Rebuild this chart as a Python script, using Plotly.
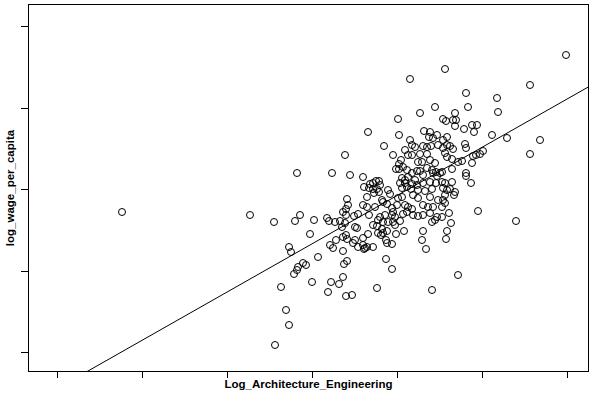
import plotly.graph_objects as go

# Log_Architecture_Engineering (x) and log_wage_per_capita (y)
x_vals = [
    1.22, 5.66, 2.50, 2.75, 2.89, 2.86,
    4.10, 4.45, 4.35, 4.20, 3.98, 4.43, 4.46, 3.68, 3.99, 4.24, 4.30,
    5.30, 4.66, 4.97, 4.68, 4.55, 4.98, 4.53, 4.56, 4.55, 4.64, 4.72, 4.77, 4.74, 4.92,
    3.45, 2.97, 3.32, 3.50, 3.46, 3.48, 2.74, 2.95, 3.00, 3.14, 3.27, 3.29, 3.35, 3.40, 3.46, 3.45,
    4.29, 4.33, 4.37,
    4.10, 3.84, 3.93, 4.05, 4.12, 4.15, 4.23, 4.27, 4.31, 4.38,
    4.08, 4.12, 4.20, 4.27,
    4.01, 4.18, 4.22, 4.30, 4.35,
    3.99, 4.03, 3.96, 3.99,
    4.07, 4.17, 4.20, 4.27, 4.32, 4.36,
    3.63, 4.12, 4.23, 4.33, 4.37,
    4.02, 4.05, 4.08, 4.15,
    3.76, 3.79, 3.70, 3.73, 3.64, 3.69, 3.73, 3.77, 3.74, 3.79, 3.80,
    3.88, 3.90,
    4.00, 4.05, 4.12, 4.17, 4.23, 4.30, 4.36,
    4.02, 4.07, 4.11, 4.18, 4.25, 4.32,
    3.47, 3.67, 3.82, 3.98, 4.02, 4.13, 4.18, 4.30, 4.38,
    3.63, 3.67, 3.75, 3.83, 3.87, 3.92, 3.97, 4.05, 4.08, 4.12, 4.23, 4.28, 4.33,
    3.43, 3.54, 3.58, 3.69, 3.80, 3.85, 3.93, 3.92, 3.95, 4.03, 4.07, 4.13, 4.18, 4.23, 4.30, 4.37,
    3.78, 3.83, 3.88, 3.93, 4.00, 4.32,
    5.07, 5.40, 4.47,
    4.43, 4.47, 4.50, 4.43, 4.53, 4.65, 4.66, 5.30, 4.83, 4.80, 4.76, 4.73, 4.45, 4.47, 4.52,
    4.58, 4.62, 4.72, 4.42, 4.40, 4.52, 4.66, 4.66, 4.71, 4.42, 4.45, 4.52, 4.43, 4.47, 4.50,
    4.55, 4.54, 4.45, 4.43, 4.45, 4.42, 4.78, 4.49, 4.42, 4.51, 5.16,
    3.42, 3.10, 3.46, 3.43, 3.47, 3.36, 2.89, 2.91, 3.30, 3.33, 3.43, 3.18, 3.47, 3.44, 3.03,
    3.06, 2.98, 2.97, 2.94, 3.12, 3.31, 3.39, 3.43, 2.81, 3.28, 3.46,
    3.55, 3.57, 3.73, 3.77, 3.95, 3.82, 3.78, 3.81, 3.83, 3.87, 3.96, 4.04, 4.23, 4.47, 4.35,
    3.55, 3.53, 3.63, 3.68, 3.58, 3.63, 3.65, 3.64, 3.67, 3.73, 3.86, 3.87, 3.92, 4.22, 4.26, 4.46,
    3.86, 3.92, 3.77, 4.32, 3.52,
    4.58,
]
y_vals = [
    1.88, 3.45, 1.85, 0.55, 0.75, 0.90,
    3.21, 3.31, 2.93, 2.87, 2.81, 2.81, 2.79, 2.68, 2.65, 2.69, 2.68,
    3.15, 3.07, 3.02, 2.93, 2.87, 2.88, 2.80, 2.80, 2.74, 2.71, 2.75, 2.75, 2.68, 2.65,
    2.45, 2.27, 2.27, 2.25, 1.91, 1.95, 1.78, 1.79, 1.85, 1.80, 1.82, 1.79, 1.78, 1.79, 1.85, 1.77,
    2.63, 2.62, 2.65,
    2.60, 2.54, 2.45, 2.50, 2.55, 2.53, 2.54, 2.53, 2.54, 2.55,
    2.45, 2.45, 2.46, 2.46,
    2.40, 2.38, 2.38, 2.40, 2.37,
    2.36, 2.33, 2.31, 2.31,
    2.30, 2.29, 2.29, 2.32, 2.30, 2.28,
    2.23, 2.27, 2.25, 2.27, 2.24,
    2.22, 2.20, 2.23, 2.20,
    2.19, 2.19, 2.16, 2.17, 2.13, 2.12, 2.11, 2.11, 2.07, 2.08, 2.15,
    2.10, 2.06,
    2.17, 2.17, 2.16, 2.15, 2.17, 2.18, 2.17,
    2.12, 2.13, 2.11, 2.10, 2.09, 2.11,
    2.01, 2.03, 2.00, 2.02, 2.03, 2.05, 2.02, 2.03, 2.00,
    1.95, 1.93, 1.93, 1.98, 1.96, 1.92, 1.95, 1.95, 1.93, 1.91, 1.95, 1.93, 1.93,
    1.88, 1.84, 1.86, 1.85, 1.83, 1.85, 1.88, 1.85, 1.83, 1.86, 1.88, 1.85, 1.84, 1.85, 1.87, 1.83,
    1.80, 1.78, 1.78, 1.78, 1.79, 1.78,
    2.62, 2.60, 2.63,
    2.60, 2.55, 2.54, 2.52, 2.51, 2.56, 2.52, 2.46, 2.49, 2.46, 2.45, 2.44, 2.47, 2.43, 2.41,
    2.38, 2.39, 2.37, 2.28, 2.27, 2.31, 2.27, 2.24, 2.17, 2.18, 2.17, 2.18, 2.12, 2.10, 2.11,
    2.08, 2.05, 2.05, 2.00, 1.97, 1.93, 1.89, 1.87, 1.83, 1.77, 1.79,
    1.73, 1.66, 1.65, 1.63, 1.61, 1.60, 1.53, 1.48, 1.55, 1.52, 1.49, 1.43, 1.39, 1.36, 1.37,
    1.35, 1.33, 1.30, 1.26, 1.18, 1.18, 1.16, 1.23, 1.13, 1.08, 1.04,
    1.73, 1.72, 1.75, 1.74, 1.75, 1.71, 1.67, 1.65, 1.67, 1.69, 1.66, 1.69, 1.69, 1.69, 1.80,
    1.60, 1.57, 1.62, 1.66, 1.53, 1.55, 1.52, 1.51, 1.53, 1.53, 1.60, 1.57, 1.56, 1.60, 1.51, 1.61,
    1.41, 1.31, 1.12, 1.10, 1.05,
    1.25,
]

# fitted regression line
fit_intercept = -0.2096
fit_slope = 0.5677

x_range = [0.29, 5.88]
y_range = [0.29, 3.95]
x_ticks = [0.57, 1.42, 2.27, 3.12, 3.97, 4.82, 5.67]
y_ticks = [0.473, 1.29, 2.105, 2.92, 3.735]

line_x = [x_range[0], x_range[1]]
line_y = [fit_intercept + fit_slope * v for v in line_x]

fig = go.Figure()
fig.add_trace(go.Scatter(
    x=line_x, y=line_y, mode="lines",
    line=dict(color="black", width=1), hoverinfo="skip", showlegend=False,
))
fig.add_trace(go.Scatter(
    x=x_vals, y=y_vals, mode="markers",
    marker=dict(symbol="circle-open", size=7, color="black", line=dict(width=1, color="black")),
    showlegend=False,
))

axis_common = dict(
    showgrid=False, zeroline=False, showticklabels=False,
    showline=True, linecolor="black", linewidth=1, mirror=True,
    ticks="outside", tickcolor="black", tickwidth=1,
)
title_font = dict(family="Liberation Sans, Arial, sans-serif", size=11.5, color="black")
fig.update_xaxes(
    range=x_range, tickvals=x_ticks, ticklen=6, **axis_common,
    title=dict(text="<b>Log_Architecture_Engineering</b>", font=title_font, standoff=2),
)
fig.update_yaxes(
    range=y_range, tickvals=y_ticks, ticklen=7, **axis_common,
    title=dict(text="<b>log_wage_per_capita</b>", font=title_font, standoff=3),
)
fig.update_layout(
    width=590, height=396,
    margin=dict(l=29, r=2, t=5, b=25, autoexpand=False),
    plot_bgcolor="white", paper_bgcolor="white",
    font=dict(family="Liberation Sans, Arial, sans-serif", color="black"),
)
fig.write_html("out.html")
